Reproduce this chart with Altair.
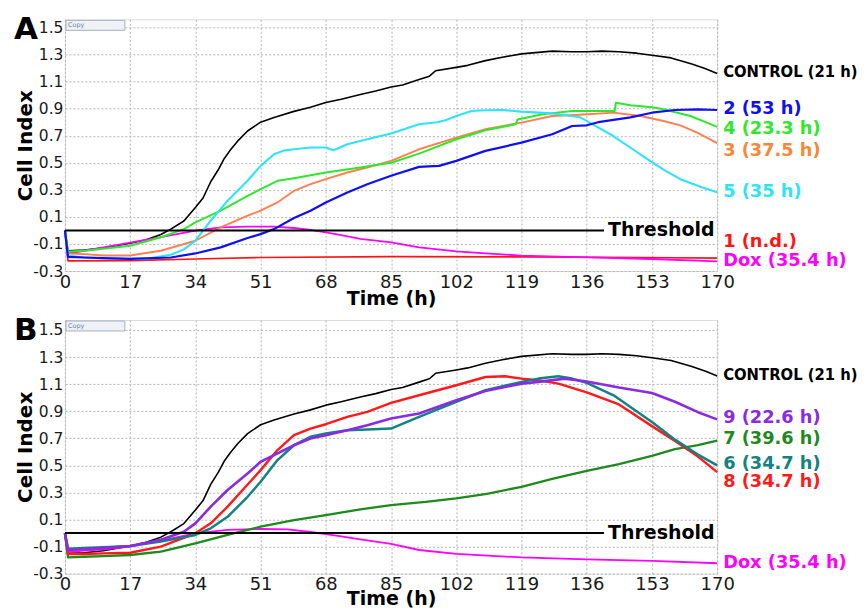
import altair as alt
import pandas as pd

# ---------------- data ----------------
ctrl_t = [0, 0.8, 5, 10, 17, 21, 25, 27.6, 31, 34, 36, 38, 40, 41.5, 43, 45, 47.6, 51, 54.5, 59.7, 64, 68, 72, 77, 81, 85, 88, 92.3, 95, 96.6, 102, 105, 109.6, 114, 119, 127, 132, 136, 140, 144.4, 149, 153, 158, 163.4, 167, 170]
ctrl_y = [0.0, -0.15, -0.145, -0.13, -0.095, -0.07, -0.03, 0.01, 0.07, 0.17, 0.24, 0.36, 0.45, 0.53, 0.59, 0.66, 0.735, 0.80, 0.835, 0.88, 0.91, 0.945, 0.97, 1.005, 1.03, 1.06, 1.075, 1.115, 1.14, 1.18, 1.205, 1.22, 1.255, 1.28, 1.305, 1.325, 1.32, 1.32, 1.325, 1.32, 1.31, 1.295, 1.275, 1.23, 1.195, 1.16]

# Panel A
s2_t = [0, 0.8, 5, 10, 17, 27.6, 34, 40.6, 47.6, 51, 54.5, 59.7, 64, 68, 73.6, 78.8, 85, 92.3, 97.5, 102, 109.6, 119, 127, 132.2, 136, 139, 147.4, 153, 159, 165, 170]
s2_y = [0.0, -0.195, -0.2, -0.205, -0.21, -0.2, -0.17, -0.125, -0.056, -0.027, 0.01, 0.092, 0.146, 0.207, 0.281, 0.342, 0.404, 0.47, 0.477, 0.514, 0.588, 0.649, 0.711, 0.772, 0.777, 0.80, 0.836, 0.87, 0.89, 0.895, 0.89]
s4_t = [0, 0.8, 5, 10, 17, 25, 31, 34, 40.6, 47.6, 51, 55.4, 59.7, 68, 77, 85, 92.3, 102, 109.6, 117.5, 118, 124.5, 132.2, 143.3, 143.6, 147.4, 153, 156, 163, 167, 170]
s4_y = [0.0, -0.155, -0.15, -0.135, -0.113, -0.05, 0.01, 0.06, 0.146, 0.256, 0.305, 0.367, 0.386, 0.428, 0.465, 0.50, 0.568, 0.674, 0.74, 0.785, 0.82, 0.858, 0.883, 0.883, 0.944, 0.925, 0.91, 0.895, 0.846, 0.80, 0.765]
s3_t = [0, 0.8, 5, 10, 17, 25, 34, 40.6, 47.6, 51, 55.4, 59.7, 64, 68, 73.6, 78.8, 85, 92.3, 102, 109.6, 119, 127, 134.3, 143, 150, 156, 160.4, 164.8, 170]
s3_y = [0.0, -0.17, -0.175, -0.185, -0.185, -0.15, -0.076, 0.023, 0.109, 0.146, 0.207, 0.293, 0.342, 0.379, 0.428, 0.465, 0.514, 0.60, 0.686, 0.748, 0.797, 0.846, 0.855, 0.871, 0.846, 0.809, 0.777, 0.723, 0.645]
s5_t = [0, 0.8, 5, 10, 17, 22, 27.6, 31, 34, 38, 42.4, 47.6, 51, 54.5, 57, 59.7, 64, 68, 70, 73.6, 78.8, 85, 92.3, 97, 99.2, 102, 106, 109.6, 114, 119, 127, 131, 134.3, 140, 143, 148, 151.8, 156, 160.4, 166, 170]
s5_y = [0.0, -0.185, -0.2, -0.205, -0.21, -0.205, -0.18, -0.14, -0.076, 0.072, 0.22, 0.367, 0.477, 0.563, 0.59, 0.60, 0.613, 0.613, 0.593, 0.637, 0.674, 0.716, 0.785, 0.80, 0.814, 0.846, 0.883, 0.888, 0.89, 0.878, 0.865, 0.85, 0.836, 0.745, 0.696, 0.60, 0.527, 0.45, 0.379, 0.32, 0.283]
s1_t = [0, 0.8, 17, 34, 51, 85, 120, 150, 170]
s1_y = [0.0, -0.225, -0.223, -0.211, -0.2, -0.194, -0.195, -0.2, -0.204]
doxA_t = [0, 0.8, 5, 10, 17, 25, 34, 40.6, 47.6, 54.5, 59.7, 64, 68, 72, 77, 81, 85, 92.3, 102, 109.6, 119, 136, 153, 170]
doxA_y = [0.0, -0.17, -0.15, -0.125, -0.09, -0.05, -0.002, 0.023, 0.028, 0.028, 0.018, 0.005, -0.014, -0.035, -0.063, -0.075, -0.088, -0.125, -0.154, -0.169, -0.186, -0.199, -0.211, -0.228]

# Panel B
s9_t = [0, 0.8, 5, 10, 17, 25, 31, 34, 38, 42.4, 47.6, 51, 54.5, 59.7, 64, 68, 73.6, 78.8, 85, 92.3, 102, 109.6, 119, 123.4, 130.3, 136, 144.4, 153, 159, 165, 170]
s9_y = [0.0, -0.125, -0.12, -0.11, -0.095, -0.05, 0.01, 0.072, 0.195, 0.318, 0.44, 0.527, 0.576, 0.649, 0.699, 0.723, 0.76, 0.797, 0.846, 0.883, 0.981, 1.05, 1.104, 1.117, 1.141, 1.12, 1.075, 1.035, 0.97, 0.893, 0.84]
s7_t = [0, 0.8, 5, 10, 17, 25, 34, 42.4, 47.6, 51, 59.7, 68, 77, 85, 94, 102, 110, 119, 127, 136, 144.4, 153, 159, 165, 170]
s7_y = [0.0, -0.18, -0.175, -0.17, -0.162, -0.137, -0.076, -0.014, 0.023, 0.047, 0.096, 0.133, 0.175, 0.207, 0.23, 0.256, 0.29, 0.342, 0.40, 0.46, 0.51, 0.57, 0.62, 0.65, 0.683]
s6_t = [0, 0.8, 5, 10, 17, 25, 34, 38, 42.4, 47.6, 51, 55.4, 59.7, 64, 68, 73.6, 78.8, 85, 92.3, 102, 109.6, 119, 123.4, 128.6, 132.2, 136, 143, 153, 159, 165, 170]
s6_y = [0.0, -0.115, -0.11, -0.105, -0.095, -0.063, -0.014, 0.035, 0.12, 0.268, 0.379, 0.539, 0.649, 0.711, 0.735, 0.76, 0.765, 0.772, 0.858, 0.969, 1.055, 1.117, 1.141, 1.158, 1.141, 1.11, 1.018, 0.82, 0.69, 0.58, 0.50]
s8_t = [0, 0.8, 5, 10, 17, 25, 34, 38, 42.4, 45.9, 51, 55.4, 59.7, 64, 68, 73.6, 78.8, 85, 92.3, 102, 109.6, 114.8, 119, 123.4, 128.6, 136, 144.4, 153, 159, 165, 170]
s8_y = [0.0, -0.155, -0.155, -0.15, -0.145, -0.1, -0.002, 0.072, 0.195, 0.305, 0.465, 0.613, 0.723, 0.772, 0.804, 0.858, 0.895, 0.962, 1.018, 1.092, 1.153, 1.158, 1.141, 1.129, 1.104, 1.04, 0.95, 0.79, 0.68, 0.565, 0.45]
doxB_t = [0, 0.8, 5, 10, 17, 25, 34, 42.4, 51, 58, 64, 68, 72, 77, 85, 92.3, 102, 119, 136, 153, 170]
doxB_y = [0.0, -0.14, -0.13, -0.12, -0.1, -0.056, -0.002, 0.023, 0.03, 0.028, 0.008, -0.007, -0.025, -0.046, -0.08, -0.125, -0.154, -0.18, -0.194, -0.206, -0.223]

# series keys (drawing order), colours, widths
A_keys = ["CONTROL", "1", "Dox", "3", "4", "5", "2"]
A_series = {"CONTROL": (ctrl_t, ctrl_y), "1": (s1_t, s1_y), "Dox": (doxA_t, doxA_y),
            "3": (s3_t, s3_y), "4": (s4_t, s4_y), "5": (s5_t, s5_y), "2": (s2_t, s2_y)}
B_keys = ["CONTROL", "Dox", "7", "8", "6", "9"]
B_series = {"CONTROL": (ctrl_t, ctrl_y), "Dox": (doxB_t, doxB_y), "7": (s7_t, s7_y),
            "8": (s8_t, s8_y), "6": (s6_t, s6_y), "9": (s9_t, s9_y)}

all_keys = ["CONTROL", "1", "Dox", "3", "4", "5", "2", "7", "8", "6", "9"]
colors = {"CONTROL": "#000000", "1": "#ff1414", "Dox": "#ff00ff", "3": "#ff7f50",
          "4": "#2ee82e", "5": "#2fe3f7", "2": "#1010ee",
          "7": "#1e8a1e", "8": "#ff1a1a", "6": "#128282", "9": "#8a2be2"}
widths = {"CONTROL": 1.6, "1": 2.6, "Dox": 2.6, "3": 2.5, "4": 2.2, "5": 2.3, "2": 3.2,
          "7": 2.5, "8": 2.3, "6": 3.6, "9": 2.3}
label_colors = {"CONTROL": "#000000", "1": "#ff1414", "Dox": "#ff00ff", "3": "#f7873a",
                "4": "#2ee82e", "5": "#2fe3f7", "2": "#1010ee",
                "7": "#1e8a1e", "8": "#ff1a1a", "6": "#128282", "9": "#8a2be2"}

A_labels = ["CONTROL (21 h)", "2 (53 h)", "4 (23.3 h)", "3 (37.5 h)", "5 (35 h)", "1 (n.d.)", "Dox (35.4 h)"]
A_label_keys = ["CONTROL", "2", "4", "3", "5", "1", "Dox"]
A_label_y = [1.168, 0.895, 0.748, 0.586, 0.283, -0.086, -0.226]
B_labels = ["CONTROL (21 h)", "9 (22.6 h)", "7 (39.6 h)", "6 (34.7 h)", "8 (34.7 h)", "Dox (35.4 h)"]
B_label_keys = ["CONTROL", "9", "7", "6", "8", "Dox"]
B_label_y = [1.168, 0.851, 0.696, 0.512, 0.379, -0.222]

threshold = 0.0
threshold_end = 140.5
x_ticks = list(range(0, 171, 17))
y_ticks = [-0.3, -0.1, 0.1, 0.3, 0.5, 0.7, 0.9, 1.1, 1.3, 1.5]

FONT = "DejaVu Sans"
W = 653


def panel(letter, keys, series, labels, label_keys, label_y, ytop, height, xtitle_pad):
    rows = []
    for k in keys:
        ts, ys = series[k]
        for i, (t, y) in enumerate(zip(ts, ys)):
            rows.append({"t": t, "ci": y, "s": k, "o": i})
    df = pd.DataFrame(rows)

    xs = alt.Scale(domain=[0, 170], nice=False, zero=False)
    ys = alt.Scale(domain=[-0.3, ytop], nice=False, zero=False)

    xaxis = alt.Axis(values=x_ticks, tickCount=30, labelFontSize=18, labelColor="#1a1a1a", labelFont=FONT,
                     tickSize=0, labelPadding=2, labelFlush=False, labelOverlap=False, domain=False,
                     title="Time (h)", titleFontSize=19, titleFont=FONT, titleFontWeight="bold",
                     titleColor="#000000", titlePadding=xtitle_pad,
                     grid=True, gridDash=[2, 2], gridColor="#b4b4b4", gridWidth=1)
    yaxis = alt.Axis(values=y_ticks, tickCount=30, labelFontSize=15.5, labelColor="#1a1a1a", labelFont=FONT,
                     labelExpr="(datum.value < 0 ? '-' : '') + format(abs(datum.value), '.1f')",
                     tickSize=0, labelPadding=2, labelFlush=False, labelOverlap=False, domain=False,
                     title="Cell Index", titleFontSize=20, titleFont=FONT, titleFontWeight="bold",
                     titleColor="#000000", titlePadding=-3,
                     grid=True, gridDash=[2, 2], gridColor="#b4b4b4", gridWidth=1)

    lines = alt.Chart(df).mark_line(strokeJoin="round").encode(
        x=alt.X("t:Q", scale=xs, axis=xaxis),
        y=alt.Y("ci:Q", scale=ys, axis=yaxis),
        color=alt.Color("s:N", scale=alt.Scale(domain=all_keys, range=[colors[k] for k in all_keys]), legend=None),
        size=alt.Size("s:N", scale=alt.Scale(domain=all_keys, range=[widths[k] for k in all_keys]), legend=None),
        order="o:Q",
    )

    thr_df = pd.DataFrame({"x0": [0], "x1": [threshold_end], "y": [threshold], "lab": ["Threshold"]})
    thr = alt.Chart(thr_df).mark_rule(color="#000000", strokeWidth=2).encode(
        x=alt.X("x0:Q", scale=xs), x2="x1:Q", y=alt.Y("y:Q", scale=ys))
    thr_txt = alt.Chart(thr_df).mark_text(align="left", baseline="middle", dx=4, dy=0,
                                          font=FONT, fontSize=19, fontWeight="bold",
                                          color="#000000").encode(
        x=alt.X("x1:Q", scale=xs), y=alt.Y("y:Q", scale=ys), text="lab:N")

    lab_df = pd.DataFrame({"x": [170] * len(labels), "y": label_y, "lab": labels,
                           "k": label_keys,
                           "c": [label_colors[k] for k in label_keys]})
    ctrl_df = lab_df[lab_df.k == "CONTROL"]
    other_df = lab_df[lab_df.k != "CONTROL"]
    lab_txt = alt.Chart(other_df).mark_text(align="left", baseline="middle", dx=6,
                                            font=FONT, fontSize=17.8, fontWeight="bold").encode(
        x=alt.X("x:Q", scale=xs), y=alt.Y("y:Q", scale=ys), text="lab:N",
        color=alt.Color("c:N", scale=None))
    ctrl_txt = alt.Chart(ctrl_df).mark_text(align="left", baseline="middle", dx=6,
                                            font="DejaVu Sans Condensed", fontSize=16.5,
                                            fontWeight="bold", color="#000000").encode(
        x=alt.X("x:Q", scale=xs), y=alt.Y("y:Q", scale=ys), text="lab:N")

    one = pd.DataFrame({"a": [0]})
    letter_txt = alt.Chart(one).mark_text(text=letter, align="left", baseline="alphabetic",
                                          font=FONT, fontSize=31, fontWeight="bold",
                                          color="#000000").encode(
        x=alt.value(-51), y=alt.value(20))
    copy_box = alt.Chart(one).mark_rect(fill="#eef1f6", stroke="#a4b0c4", strokeWidth=1).encode(
        x=alt.value(1), x2=alt.value(60), y=alt.value(1), y2=alt.value(11))
    copy_txt = alt.Chart(one).mark_text(text="Copy", align="left", baseline="middle",
                                        font=FONT, fontSize=6.5, color="#7282a8").encode(
        x=alt.value(3), y=alt.value(6))

    return alt.layer(copy_box, copy_txt, lines, thr, thr_txt, lab_txt, ctrl_txt, letter_txt).properties(
        width=W, height=height)


pA = panel("A", A_keys, A_series, A_labels, A_label_keys, A_label_y, 1.56, 252, -2)
pB = panel("B", B_keys, B_series, B_labels, B_label_keys, B_label_y, 1.574, 254, -4)

chart = alt.vconcat(pA, pB, spacing=5).properties(
    padding={"left": 5, "top": 5, "right": 0, "bottom": 0}
).configure_view(stroke="#8c8c8c", strokeWidth=1).configure(background="#ffffff")

chart.save("out.html", embed_options={"renderer": "svg", "actions": False})
